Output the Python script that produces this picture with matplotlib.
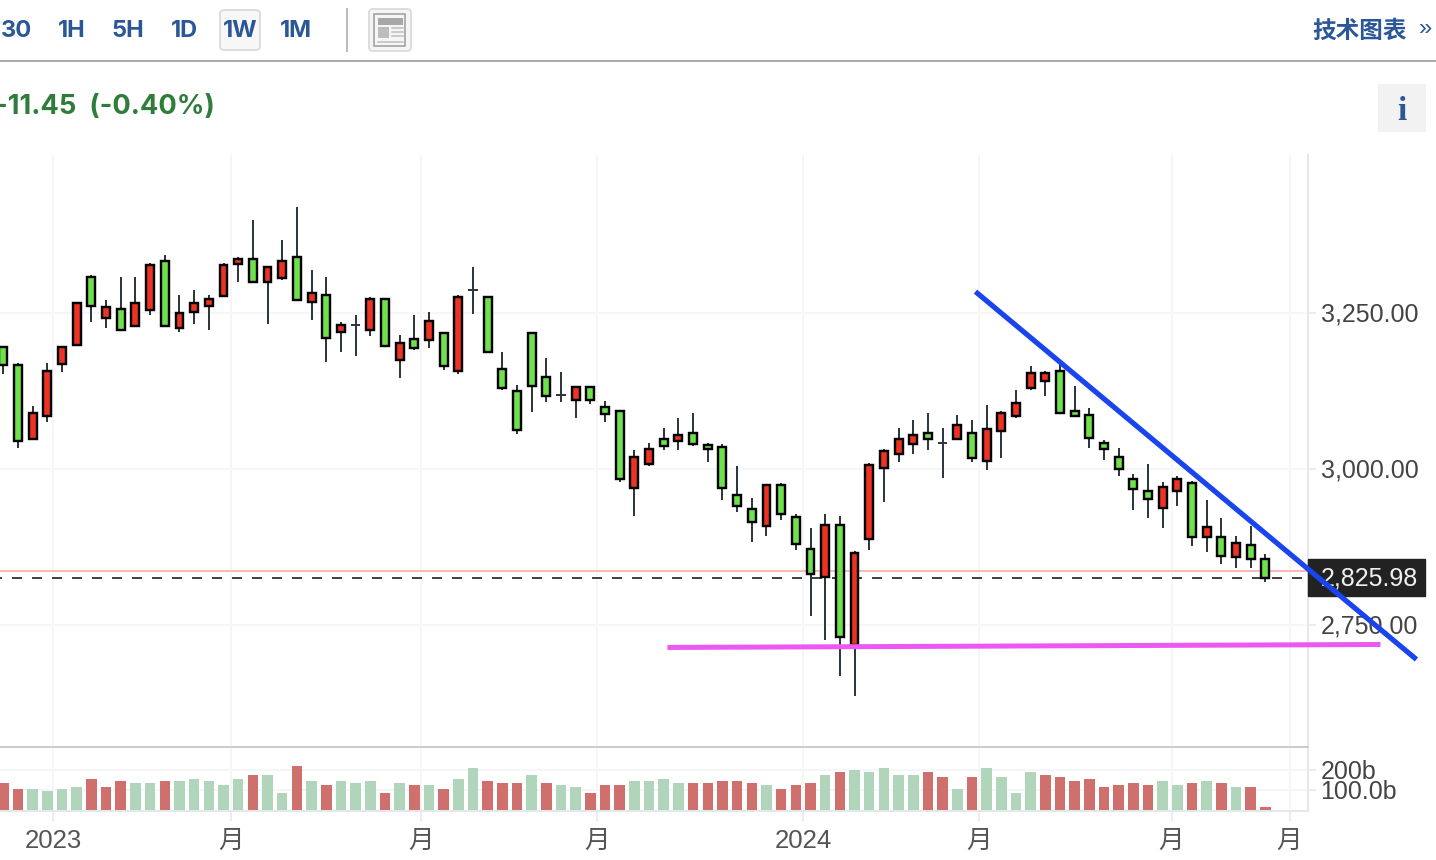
import matplotlib
matplotlib.use('Agg')
import numpy as np
import matplotlib.pyplot as plt
from matplotlib.patches import Rectangle, FancyBboxPatch
from matplotlib.transforms import ScaledTranslation

plt.rcParams['font.family'] = ['Liberation Sans', 'Noto Sans CJK SC', 'DejaVu Sans']
plt.rcParams['lines.scale_dashes'] = False

# weekly candles, oldest first
opens = [3196, 3167, 3048, 3086, 3169, 3199, 3308, 3243, 3257, 3230, 3256, 3334, 3227, 3253, 3262,
         3278, 3330, 3337, 3301, 3307, 3340, 3269, 3279, 3221, 3231, 3224, 3273, 3176, 3209, 3208,
         3218, 3157, 3288, 3276, 3161, 3126, 3219, 3148, 3119, 3112, 3132, 3100, 3094, 2971, 3009,
         3049, 3045, 3058, 3039, 3036, 2959, 2937, 2910, 2975, 2924, 2873, 2828, 2911, 2719, 2888,
         3003, 3025, 3041, 3058, 3042, 3048, 3059, 3013, 3061, 3086, 3131, 3142, 3158, 3094, 3087,
         3043, 3020, 2985, 2966, 2939, 2965, 2978, 2891, 2892, 2859, 2879, 2857]
highs = [3196, 3171, 3101, 3171, 3196, 3267, 3312, 3271, 3309, 3309, 3331, 3344, 3280, 3287, 3280,
         3331, 3341, 3399, 3324, 3367, 3421, 3319, 3309, 3236, 3248, 3277, 3273, 3216, 3248, 3252,
         3218, 3280, 3325, 3276, 3188, 3136, 3219, 3178, 3156, 3132, 3132, 3110, 3094, 3031, 3043,
         3066, 3082, 3091, 3043, 3040, 3005, 2954, 2975, 2979, 2928, 2906, 2928, 2925, 2870, 3011,
         3033, 3066, 3079, 3091, 3066, 3088, 3079, 3104, 3094, 3127, 3165, 3158, 3174, 3133, 3098,
         3047, 3034, 2992, 3008, 2980, 2989, 2981, 2951, 2922, 2893, 2909, 2864]
lows = [3153, 3034, 3048, 3076, 3156, 3199, 3236, 3226, 3224, 3230, 3248, 3230, 3220, 3233, 3223,
        3278, 3300, 3301, 3233, 3303, 3272, 3239, 3172, 3188, 3182, 3214, 3198, 3146, 3191, 3194,
        3159, 3153, 3249, 3189, 3127, 3057, 3092, 3108, 3108, 3082, 3105, 3076, 2980, 2925, 3006,
        3031, 3031, 3038, 3012, 2951, 2932, 2884, 2893, 2919, 2871, 2765, 2727, 2669, 2637, 2871,
        2948, 3012, 3025, 3031, 2986, 3048, 3012, 2999, 3018, 3083, 3127, 3118, 3091, 3086, 3035,
        3015, 2990, 2935, 2922, 2906, 2942, 2878, 2868, 2849, 2842, 2842, 2820]
closes = [3167, 3045, 3090, 3158, 3196, 3267, 3262, 3260, 3224, 3267, 3327, 3230, 3251, 3267, 3273,
          3327, 3337, 3301, 3324, 3334, 3272, 3283, 3211, 3231, 3231, 3273, 3198, 3202, 3195, 3238,
          3166, 3276, 3288, 3189, 3131, 3064, 3134, 3118, 3119, 3132, 3112, 3089, 2984, 3020, 3033,
          3038, 3055, 3041, 3032, 2971, 2942, 2916, 2975, 2929, 2881, 2833, 2911, 2731, 2866, 3007,
          3030, 3049, 3055, 3048, 3042, 3071, 3019, 3065, 3091, 3107, 3155, 3155, 3091, 3086, 3051,
          3032, 3000, 2968, 2952, 2972, 2985, 2891, 2908, 2862, 2882, 2857, 2825.98]

# volume in billions, colour flags as they appear in the lower panel
volumes = [138, 107, 107, 97, 107, 117, 158, 117, 148, 138, 138, 148, 148, 158, 148,
           128, 158, 178, 178, 87, 219, 148, 128, 148, 138, 148, 87, 138, 128, 128,
           107, 158, 209, 148, 138, 138, 178, 138, 128, 117, 87, 128, 128, 148, 148,
           158, 138, 138, 138, 148, 148, 138, 128, 107, 128, 138, 178, 189, 199, 189,
           209, 178, 178, 189, 168, 107, 168, 209, 168, 87, 189, 178, 168, 148, 158,
           117, 128, 138, 128, 148, 128, 138, 148, 138, 117, 117, 15]
vol_flags = ('RRGGGGRRRGGRGGGGGRGGRGRGGGRGRGRGGRRRGRGGRRRGGGGRRR'
             'RRGRRRGRGGGGGRRGRGGGGRRRRRRRRGGRGRGRR')

prev_close = 2837.43
last_close = 2825.98

price_ticks = [2750, 3000, 3250]
price_labels = ['2,750.00', '3,000.00', '3,250.00']
vol_ticks = [100, 200]
vol_labels = ['100.0b', '200b']
time_ticks = [3.41, 15.54, 28.49, 40.48, 54.52, 66.51, 79.6, 87.64]
time_labels = ['2023', '月', '月', '月', '2024', '月', '月', '月']

periods = ['30', '1H', '5H', '1D', '1W', '1M']
period_x = [16, 72, 128, 184, 240, 296]

W, H = 1436, 860
fig = plt.figure(figsize=(W / 100, H / 100), dpi=100, facecolor='white')

# main panel
ax = fig.add_axes([0, (H - 747) / H, 1308 / W, (747 - 155) / H])
vol = fig.add_axes([0, (H - 811) / H, 1308 / W, (811 - 747) / H], sharex=ax)
xs = np.arange(len(opens))
ax.set_xlim(-0.23, 88.9)
ax.set_ylim(2555.2, 3503.9)

grid = '#f6f6f8'
line = '#e4e7ec'
px = 0.72

for a in (ax, vol):
    a.set_facecolor('none')
    a.tick_params(axis='both', colors=line, width=1.5 * px)
    a.yaxis.tick_right()
    for s in ('left', 'top', 'bottom'):
        a.spines[s].set_visible(False)
    a.spines['right'].set_color(line)
    a.spines['right'].set_linewidth(2 * px)
    a.set_xticks(time_ticks)
    a.grid(True, color=grid, lw=2 * px, zorder=0)
    a.set_axisbelow(True)

ax.set_yticks(price_ticks)
ax.set_yticklabels(price_labels, fontsize=18, color='#444444')
ax.tick_params(axis='y', length=6, pad=3)
ax.tick_params(axis='x', length=0, labelbottom=False)

# previous close and last price
ax.axhline(prev_close, color='#fbb9b4', lw=2 * px, zorder=1)
ax.axhline(last_close, color='#444444', lw=2 * px, ls=(5.76, (7.2, 7.2)), zorder=1)

for i in xs:
    o, h, l, c = opens[i], highs[i], lows[i], closes[i]
    ax.plot([i, i], [l, h], color='#2f383d', lw=2 * px, solid_capstyle='butt', zorder=3)
    if o == c:
        ax.plot([i - 0.33, i + 0.33], [o, o], color='#2f383d', lw=2 * px, solid_capstyle='butt', zorder=3)
    else:
        ax.bar(i, abs(c - o), bottom=min(o, c), width=0.54, color='#ee3324' if c > o else '#6fe14d',
               edgecolor='black', linewidth=2.4 * px, zorder=4)

# last price tag on the axis
trans = ax.get_yaxis_transform()
ax.add_patch(Rectangle((1.0, last_close - 28), 117 / 1308, 58, transform=trans, color='#222222',
                       clip_on=False, zorder=5))
ax.text(1 + 13 / 1308, last_close - 1.5, '2,825.98', transform=trans, color='#f0f0f0', fontsize=18,
        va='center', ha='left', zorder=6, clip_on=False)

# hand drawn trend lines
ax.plot([66.24, 96.29], [3285, 2695.5], color='#1a44ee', lw=5.2 * px, clip_on=False, zorder=8,
        solid_capstyle='butt')
ax.plot([45.25, 93.84], [2714.7, 2719.5], color='#ee58f2', lw=5 * px, clip_on=False, zorder=7,
        solid_capstyle='butt')

# volume panel
vol.bar(xs, volumes, width=0.72, color=['#d0706c' if f == 'R' else '#b0d5bb' for f in vol_flags], zorder=3)
vol.set_ylim(-3, 315)
vol.set_yticks(vol_ticks)
vol.set_yticklabels(vol_labels, fontsize=18, color='#444444')
vol.tick_params(axis='y', length=6, pad=3)
vol.set_xticks(time_ticks)
vol.set_xticklabels(time_labels, fontsize=18.5, color='#555555')
vol.tick_params(axis='x', length=7, pad=6)
vol.spines['bottom'].set_visible(True)
vol.spines['bottom'].set_color(line)
vol.spines['bottom'].set_linewidth(2 * px)
vol.spines['top'].set_visible(True)
vol.spines['top'].set_color('#cccccc')
vol.spines['top'].set_linewidth(2 * px)

# tick labels sit a touch above their grid lines
for a, shift in ((ax, 1.5), (vol, 0.5)):
    nudge = ScaledTranslation(0, shift / 100, fig.dpi_scale_trans)
    for lab in a.get_yticklabels():
        lab.set_transform(lab.get_transform() + nudge)

# toolbar and header, in pixel coordinates
top = fig.add_axes([0, 0, 1, 1], zorder=-1)
top.set_xlim(0, W)
top.set_ylim(H, 0)
top.axis('off')

top.add_patch(FancyBboxPatch((220, 10), 40, 40, boxstyle='round,pad=0,rounding_size=4',
                             fc='#f7f7f7', ec='#dddddd', lw=2 * px))
for lab, x in zip(periods, period_x):
    top.text(x, 31, lab, color='#2b5797', fontsize=17, fontweight='bold', ha='center', va='center',
             family=['Inter', 'DejaVu Sans'])
top.plot([347, 347], [9, 51], color='#bdbdbd', lw=2 * px)
top.plot([0, W], [61, 61], color='#ababab', lw=2 * px)

# layout icon
top.add_patch(FancyBboxPatch((369, 9), 42, 42, boxstyle='round,pad=0,rounding_size=4',
                             fc='#f5f5f5', ec='#dddddd', lw=2 * px))
top.add_patch(Rectangle((374, 14), 31, 32, fc='#f5f5f5', ec='#9a9a9a', lw=1.5 * px))
top.add_patch(Rectangle((378, 18), 25, 7, fc='#a8a8a8', ec='none'))
top.add_patch(Rectangle((378, 27), 11, 11, fc='#bdbdbd', ec='none'))
for y in (28, 32, 36):
    top.plot([392, 403], [y, y], color='#bdbdbd', lw=1.5 * px)
top.plot([378, 403], [42, 42], color='#bdbdbd', lw=1.5 * px)

top.text(1360, 31, '技术图表', color='#2b5797', fontsize=17, fontweight='bold', ha='center', va='center',
         family=['Noto Sans CJK SC', 'DejaVu Sans'])
top.text(1426, 29, '»', color='#2b5797', fontsize=17, ha='center', va='center')

top.text(-5, 107, '-11.45  (-0.40%)', color='#2e7d3a', fontsize=19.7, fontweight='bold', ha='left', va='center',
         family=['Inter', 'DejaVu Sans'])

top.add_patch(Rectangle((1378, 84), 48, 48, fc='#f2f2f2', ec='none'))
top.text(1402, 111, 'i', color='#2b5797', fontsize=24, fontweight='bold', ha='center', va='center',
         family=['Liberation Serif'])

fig.savefig('out.png', dpi=100)
